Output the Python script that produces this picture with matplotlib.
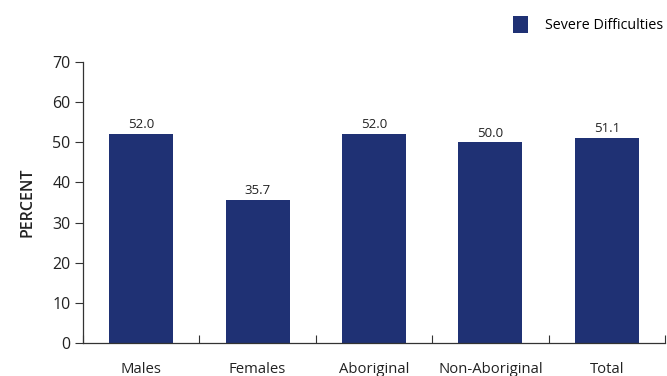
import numpy as np
import matplotlib.pyplot as plt
from matplotlib.patches import Patch

plt.rcParams['font.family'] = ['Open Sans', 'DejaVu Sans']

categories = ["Males", "Females", "Aboriginal", "Non-Aboriginal", "Total"]
severe = [52.0, 35.7, 52.0, 50.0, 51.1]
yticks = [0, 10, 20, 30, 40, 50, 60, 70]

bar_color = "#1f3174"
axis_color = "#333333"

fig = plt.figure(figsize=(6.67, 3.76), dpi=100)
ax = fig.add_axes([0.1244, 0.0878, 0.8726, 0.7472])

x = np.arange(len(categories))
bars = ax.bar(x, severe, width=0.55, color=bar_color, zorder=2)
for b, v in zip(bars, severe):
    ax.text(b.get_x() + b.get_width() / 2, v + 0.7, f"{v:.1f}",
            ha="center", va="bottom", fontsize=9.5, color="#222222")

ax.set_xlim(-0.5, len(categories) - 0.5)
ax.set_ylim(0, 70)
ax.set_yticks(yticks)
ax.tick_params(axis="y", direction="out", length=6, width=0.8,
               labelsize=11.5, colors=axis_color, labelcolor="#222222", pad=3)

# boundary ticks between categories, labels centred under bars
ax.set_xticks(np.arange(len(categories) + 1) - 0.5)
ax.set_xticklabels([])
ax.tick_params(axis="x", which="major", direction="in", length=6, width=0.8, colors=axis_color)
ax.set_xticks(x, minor=True)
ax.set_xticklabels(categories, minor=True)
ax.tick_params(axis="x", which="minor", length=0, pad=14, labelsize=10.7, labelcolor="#222222")

for side in ["top", "right"]:
    ax.spines[side].set_visible(False)
for side in ["left", "bottom"]:
    ax.spines[side].set_color(axis_color)
    ax.spines[side].set_linewidth(0.9)

ax.set_ylabel("PERCENT", fontsize=11.5, fontweight="semibold", color="#222222", labelpad=12)

handles = [Patch(facecolor=bar_color, label="Severe Difficulties")]
fig.legend(handles=handles, loc="upper right", bbox_to_anchor=(1.013, 0.99),
           frameon=False, fontsize=10.3, handlelength=1.05, handleheight=1.5,
           handletextpad=1.2, borderaxespad=0.45)

fig.savefig("out.png", dpi=100)
